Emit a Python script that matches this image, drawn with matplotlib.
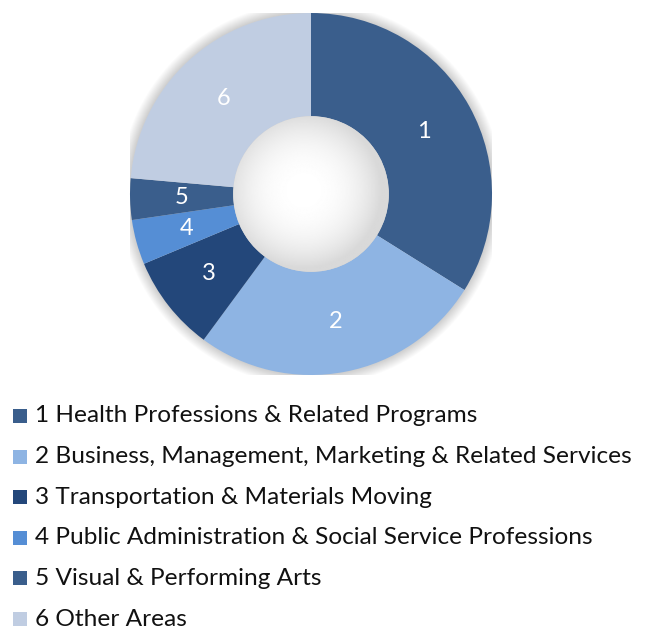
import numpy as np
import matplotlib.pyplot as plt
from matplotlib.patches import Rectangle, Circle

# slice data (share of total)
codes = ["1", "2", "3", "4", "5", "6"]
areas = ["Health Professions & Related Programs",
         "Business, Management, Marketing & Related Services",
         "Transportation & Materials Moving",
         "Public Administration & Social Service Professions",
         "Visual & Performing Arts",
         "Other Areas"]
shares = [33.9, 26.2, 8.6, 4.0, 3.7, 23.6]
colors = ["#3a5e8c", "#8eb4e3", "#23477a", "#558ed5", "#3a5e8c", "#c0cde2"]

plt.rcParams['font.family'] = ['Lato', 'DejaVu Sans']

W, H = 652, 629
fig = plt.figure(figsize=(W / 100, H / 100), dpi=100)

# donut axes: centre (311, 194) px, radius 181 px
cx, cy, r = 311, 194, 181
hole = 0.43
ax = fig.add_axes([(cx - r) / W, (H - cy - r) / H, 2 * r / W, 2 * r / H])

# soft shadow
for i in range(12):
    ax.add_patch(Circle((0, 0), 1 + 0.005 * (i + 1), color='#000000', alpha=0.016, lw=0, zorder=0))

wedges, texts = ax.pie(shares, colors=colors, labels=codes, startangle=90, counterclock=False,
                       radius=1, labeldistance=0.715, wedgeprops=dict(width=1 - hole, linewidth=0),
                       textprops=dict(color='white', fontsize=17))
for t in texts:
    t.set_ha('center')
    t.set_va('center')

# hole: grey at the rim fading to white
g = np.linspace(-hole, hole, 200)
xx, yy = np.meshgrid(g, g)
rr = np.hypot(xx + 0.04, yy + 0.02) / hole
shade = 1 - 0.15 * np.clip(rr, 0, 1) ** 2.5
img = ax.imshow(shade, cmap='gray', vmin=0, vmax=1, extent=(-hole, hole, -hole, hole),
                zorder=3, interpolation='bilinear')
img.set_clip_path(Circle((0, 0), hole, transform=ax.transData))

ax.set_xlim(-1, 1)
ax.set_ylim(-1, 1)
ax.set_aspect('equal')
ax.axis('off')

# legend
y0, dy = 416, 40.6
for i, (c, a, col) in enumerate(zip(codes, areas, colors)):
    y = y0 + i * dy
    fig.add_artist(Rectangle((13 / W, (H - y - 7) / H), 14 / W, 14 / H,
                             transform=fig.transFigure, color=col, lw=0))
    fig.text(35 / W, (H - y) / H, f"{c} {a}", fontsize=17.6, color='#111111',
             ha='left', va='center')

fig.savefig("out.png", dpi=100)
